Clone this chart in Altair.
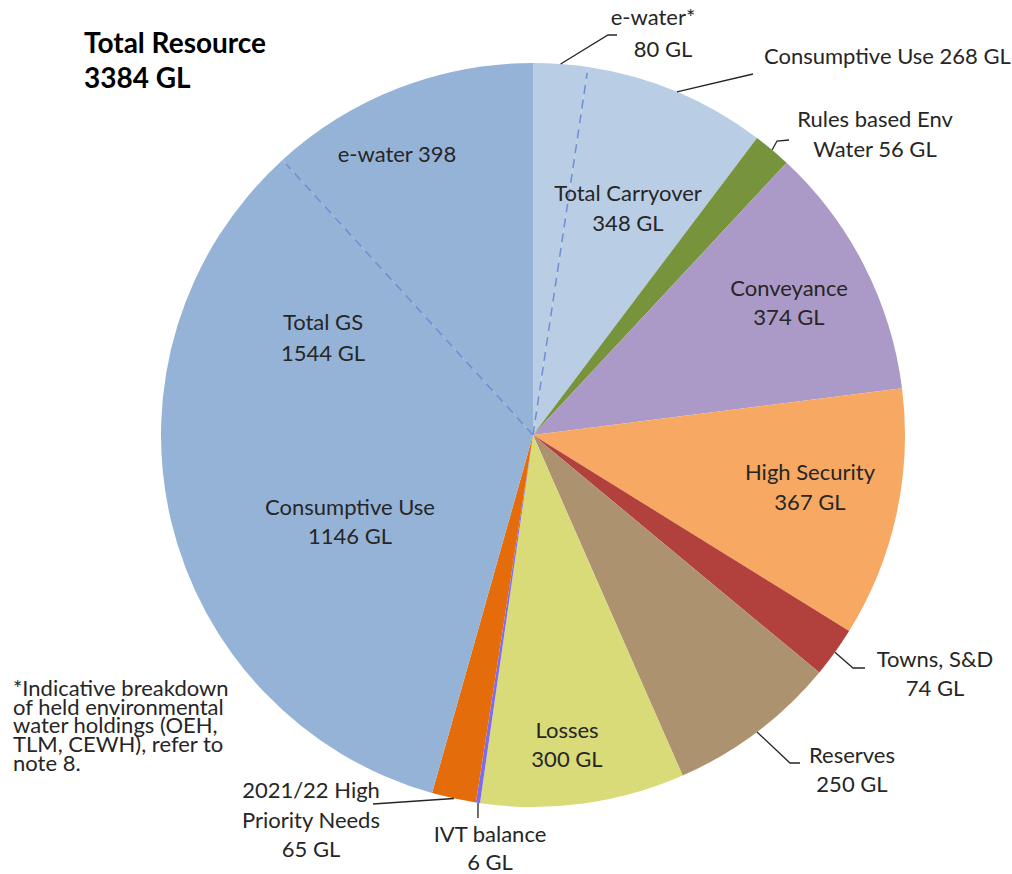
import numpy as np
import pandas as pd
import altair as alt

# ---- data -------------------------------------------------------------
slice_keys = ["e-water (carryover)", "Consumptive Use (carryover)", "Rules based Env Water",
              "Conveyance", "High Security", "Towns, S&D", "Reserves", "Losses",
              "IVT balance", "2021/22 High Priority Needs", "Consumptive Use (GS)", "e-water (GS)"]
slice_values = [80, 268, 56, 374, 367, 74, 250, 300, 6, 65, 1146, 398]
slice_colors = ["#b9cde5", "#b9cde5", "#77933c", "#ab9ac7", "#f7a863", "#b2403d",
                "#ad9270", "#d9da78", "#7b6cf0", "#e46c0a", "#95b3d7", "#95b3d7"]

total = sum(slice_values)

# ---- geometry -----------------------------------------------------------
CX, CY, R = 533, 435, 372
W, H = 1012, 874
FONT = "Lato"
FS = 22

df = pd.DataFrame({"key": slice_keys, "value": slice_values, "idx": range(len(slice_keys))})

pie = alt.Chart(df).mark_arc(outerRadius=R).encode(
    theta=alt.Theta("value:Q", stack=True),
    color=alt.Color("key:N", scale=alt.Scale(domain=slice_keys, range=slice_colors), legend=None),
    order=alt.Order("idx:Q"),
    x=alt.value(CX),
    y=alt.value(CY),
)

cum = np.cumsum(slice_values)
start = np.concatenate([[0], cum[:-1]])


def polar(v, r):
    a = v / total * 2 * np.pi
    return CX + r * np.sin(a), CY - r * np.cos(a)


# dashed boundaries inside the two same-coloured groups
dash_rows = []
for b in [cum[0], cum[10]]:
    x2, y2 = polar(b, R * 0.985)
    dash_rows.append({"x": CX, "y": CY, "x2": x2, "y2": y2})
dashes = alt.Chart(pd.DataFrame(dash_rows)).mark_rule(
    color="#6d8fd4", strokeDash=[9, 6], strokeWidth=1.5
).encode(
    x=alt.X("x:Q", scale=None), y=alt.Y("y:Q", scale=None),
    x2="x2:Q", y2="y2:Q",
)

# leader lines: start at the slice's mid-angle on the rim
leader_bends = {
    0: [(608, 35), (617, 35)],
    1: [(753, 74)],
    2: [(777, 141), (789, 140)],
    5: [(853, 668), (865, 668)],
    6: [(790, 763), (800, 763)],
    8: [(478, 818)],
    9: [(373, 804)],
}
lead_rows = []
for i, pts in leader_bends.items():
    sx, sy = polar(start[i] + slice_values[i] / 2, R)
    lead_rows.append({"id": i, "o": 0, "x": sx, "y": sy})
    for k, (px, py) in enumerate(pts):
        lead_rows.append({"id": i, "o": k + 1, "x": px, "y": py})
leaders = alt.Chart(pd.DataFrame(lead_rows)).mark_line(color="#262626", strokeWidth=1.3).encode(
    x=alt.X("x:Q", scale=None), y=alt.Y("y:Q", scale=None),
    detail="id:N", order="o:Q",
)

# ---- text -------------------------------------------------------------
center_labels = [
    ("e-water*", 653, 18), ("80 GL", 663, 50),
    ("Rules based Env", 875, 120), ("Water 56 GL", 875, 150),
    ("e-water 398", 397, 155),
    ("Total Carryover", 628, 194), ("348 GL", 628, 224),
    ("Conveyance", 789, 289), ("374 GL", 789, 318),
    ("Total GS", 323, 323), ("1544 GL", 323, 354),
    ("High Security", 810, 473), ("367 GL", 810, 503),
    ("Consumptive Use", 350, 508), ("1146 GL", 350, 537),
    ("Towns, S&D", 935, 660), ("74 GL", 935, 689),
    ("Losses", 567, 731), ("300 GL", 567, 760),
    ("Reserves", 852, 756), ("250 GL", 852, 785),
    ("2021/22 High", 311, 791), ("Priority Needs", 311, 821), ("65 GL", 311, 850),
    ("IVT balance", 490, 835), ("6 GL", 490, 863),
]
left_labels = [
    ("Consumptive Use 268 GL", 764, 57),
]
footnote = [("*Indicative breakdown\nof held environmental\nwater holdings (OEH,\nTLM, CEWH), refer to\nnote 8.", 13, 689)]
title_lines = [("Total Resource", 84, 45), ("3384 GL", 84, 80)]


def text_layer(rows, align, size, weight="normal", color="#262626", **kw):
    d = pd.DataFrame(rows, columns=["t", "x", "y"])
    return alt.Chart(d).mark_text(
        align=align, baseline="middle", font=FONT, fontSize=size, fontWeight=weight, color=color, **kw
    ).encode(x=alt.X("x:Q", scale=None), y=alt.Y("y:Q", scale=None), text="t:N")


chart = alt.layer(
    pie, dashes, leaders,
    text_layer(center_labels, "center", FS),
    text_layer(left_labels, "left", FS),
    text_layer(footnote, "left", FS, lineBreak="\n", lineHeight=18.7),
    text_layer(title_lines, "left", 28, "bold", "#000000"),
).properties(
    width=W, height=H, autosize=alt.AutoSizeParams(type="none"), padding=0
).configure_view(stroke=None)

chart.save("out.html", embed_options={"renderer": "svg", "actions": False})
